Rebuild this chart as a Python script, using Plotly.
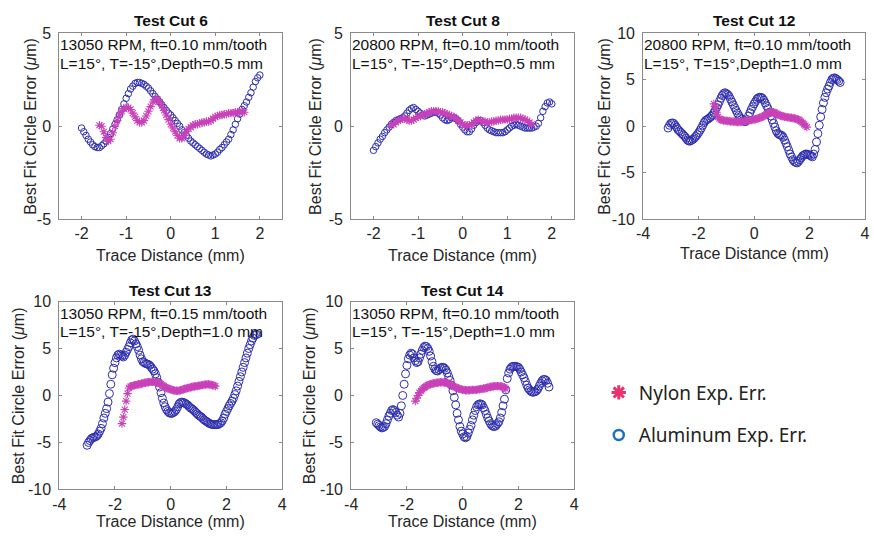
import plotly.graph_objects as go

W, H = 874, 543

# ---------------- data: (trace distance mm, error um) ----------------
c6_al = [(-2.00,-0.1),(-1.95,-0.3),(-1.90,-0.5),(-1.85,-0.7),(-1.80,-0.85),(-1.75,-1.0),(-1.70,-1.1),(-1.65,-1.15),
         (-1.60,-1.15),(-1.55,-1.05),(-1.50,-0.95),(-1.45,-0.8),(-1.40,-0.6),(-1.35,-0.4),(-1.30,-0.15),(-1.25,0.1),
         (-1.20,0.35),(-1.15,0.6),(-1.10,0.9),(-1.05,1.2),(-1.00,1.5),(-0.95,1.75),(-0.90,2.0),(-0.85,2.15),
         (-0.80,2.3),(-0.75,2.35),(-0.70,2.35),(-0.65,2.3),(-0.60,2.25),(-0.55,2.15),(-0.50,2.05),(-0.45,1.9),
         (-0.40,1.75),(-0.35,1.6),(-0.30,1.45),(-0.25,1.3),(-0.20,1.15),(-0.15,1.0),(-0.10,0.85),(-0.05,0.7),
         (0.00,0.6),(0.05,0.45),(0.10,0.3),(0.15,0.15),(0.20,0.0),(0.25,-0.2),(0.30,-0.35),(0.35,-0.5),
         (0.40,-0.65),(0.45,-0.8),(0.50,-0.9),(0.55,-1.0),(0.60,-1.1),(0.65,-1.2),(0.70,-1.3),(0.75,-1.4),
         (0.80,-1.5),(0.85,-1.55),(0.90,-1.6),(0.95,-1.55),(1.00,-1.5),(1.05,-1.4),(1.10,-1.25),(1.15,-1.15),
         (1.20,-1.0),(1.25,-0.85),(1.30,-0.7),(1.35,-0.45),(1.40,-0.2),(1.45,0.1),(1.50,0.4),(1.55,0.65),
         (1.60,0.9),(1.65,1.1),(1.70,1.3),(1.75,1.55),(1.80,1.8),(1.85,2.1),(1.90,2.4),(1.95,2.6),(2.00,2.75)]
c6_ny = [(-1.60,0.05),(-1.55,0.0),(-1.50,-0.3),(-1.45,-0.6),(-1.40,-0.8),(-1.35,-0.7),(-1.30,-0.35),(-1.25,0.0),
         (-1.20,0.3),(-1.15,0.6),(-1.10,0.8),(-1.05,0.95),(-1.00,1.0),(-0.95,1.0),(-0.90,0.9),(-0.85,0.7),
         (-0.80,0.5),(-0.75,0.3),(-0.70,0.2),(-0.65,0.2),(-0.60,0.3),(-0.55,0.55),(-0.50,0.8),(-0.45,1.05),
         (-0.40,1.3),(-0.35,1.45),(-0.30,1.45),(-0.25,1.3),(-0.20,1.1),(-0.15,0.85),(-0.10,0.6),(-0.05,0.35),
         (0.00,0.1),(0.05,-0.1),(0.10,-0.3),(0.15,-0.5),(0.20,-0.65),(0.25,-0.65),(0.30,-0.5),(0.35,-0.3),
         (0.40,-0.15),(0.45,-0.05),(0.50,0.05),(0.55,0.1),(0.60,0.1),(0.65,0.15),(0.70,0.2),(0.75,0.2),
         (0.80,0.25),(0.85,0.25),(0.90,0.3),(0.95,0.4),(1.00,0.5),(1.05,0.55),(1.10,0.6),(1.15,0.6),
         (1.20,0.65),(1.25,0.65),(1.30,0.7),(1.35,0.7),(1.40,0.7),(1.45,0.75),(1.50,0.75),(1.55,0.75),
         (1.60,0.8),(1.65,0.75)]

c8_al = [(-2.00,-1.3),(-1.95,-1.1),(-1.90,-0.9),(-1.85,-0.7),(-1.80,-0.55),(-1.75,-0.35),(-1.70,-0.2),(-1.65,-0.05),
         (-1.60,0.1),(-1.55,0.2),(-1.50,0.3),(-1.45,0.35),(-1.40,0.4),(-1.35,0.45),(-1.30,0.55),(-1.25,0.7),
         (-1.20,0.85),(-1.15,0.95),(-1.10,1.0),(-1.05,0.9),(-1.00,0.8),(-0.95,0.7),(-0.90,0.6),(-0.85,0.55),
         (-0.80,0.6),(-0.75,0.65),(-0.70,0.7),(-0.65,0.75),(-0.60,0.75),(-0.55,0.7),(-0.50,0.6),(-0.45,0.45),
         (-0.40,0.35),(-0.35,0.3),(-0.30,0.35),(-0.25,0.45),(-0.20,0.45),(-0.15,0.4),(-0.10,0.3),(-0.05,0.1),
         (0.00,-0.05),(0.05,-0.2),(0.10,-0.3),(0.15,-0.3),(0.20,-0.15),(0.25,0.05),(0.30,0.2),(0.35,0.3),
         (0.40,0.3),(0.45,0.2),(0.50,0.05),(0.55,-0.1),(0.60,-0.2),(0.65,-0.25),(0.70,-0.3),(0.75,-0.35),
         (0.80,-0.35),(0.85,-0.35),(0.90,-0.35),(0.95,-0.3),(1.00,-0.2),(1.05,-0.1),(1.10,0.0),(1.15,0.05),
         (1.20,0.1),(1.25,0.05),(1.30,0.0),(1.35,-0.05),(1.40,-0.1),(1.45,-0.1),(1.50,-0.1),(1.55,-0.1),
         (1.60,-0.05),(1.65,0.0),(1.70,0.15),(1.75,0.45),(1.80,0.8),(1.85,1.05),(1.90,1.25),(1.95,1.3),(2.00,1.2)]
c8_ny = [(-1.60,0.05),(-1.55,0.1),(-1.50,0.2),(-1.45,0.3),(-1.40,0.35),(-1.35,0.4),(-1.30,0.4),(-1.25,0.35),
         (-1.20,0.3),(-1.15,0.3),(-1.10,0.35),(-1.05,0.45),(-1.00,0.5),(-0.95,0.55),(-0.90,0.6),(-0.85,0.65),
         (-0.80,0.7),(-0.75,0.75),(-0.70,0.8),(-0.65,0.8),(-0.60,0.8),(-0.55,0.8),(-0.50,0.75),(-0.45,0.75),
         (-0.40,0.7),(-0.35,0.65),(-0.30,0.6),(-0.25,0.55),(-0.20,0.5),(-0.15,0.4),(-0.10,0.3),(-0.05,0.2),
         (0.00,0.1),(0.05,0.05),(0.10,0.05),(0.15,0.05),(0.20,0.1),(0.25,0.2),(0.30,0.3),(0.35,0.35),
         (0.40,0.3),(0.45,0.25),(0.50,0.25),(0.55,0.2),(0.60,0.2),(0.65,0.25),(0.70,0.25),(0.75,0.3),
         (0.80,0.3),(0.85,0.35),(0.90,0.35),(0.95,0.35),(1.00,0.35),(1.05,0.4),(1.10,0.4),(1.15,0.45),
         (1.20,0.45),(1.25,0.45),(1.30,0.45),(1.35,0.4),(1.40,0.35),(1.45,0.3),(1.50,0.2),(1.55,0.1)]

c12_al = [(-3.10,-0.2),(-3.05,0.1),(-3.00,0.3),(-2.95,0.35),(-2.90,0.3),(-2.85,0.1),(-2.80,-0.1),(-2.75,-0.35),
          (-2.70,-0.5),(-2.65,-0.65),(-2.60,-0.8),(-2.55,-0.95),(-2.50,-1.1),(-2.45,-1.3),(-2.40,-1.5),(-2.35,-1.6),
          (-2.30,-1.6),(-2.25,-1.5),(-2.20,-1.4),(-2.15,-1.25),(-2.10,-1.1),(-2.05,-0.9),(-2.00,-0.7),(-1.95,-0.45),
          (-1.90,-0.2),(-1.85,0.1),(-1.80,0.4),(-1.75,0.6),(-1.70,0.7),(-1.65,0.8),(-1.60,0.9),(-1.55,1.05),
          (-1.50,1.2),(-1.45,1.45),(-1.40,1.7),(-1.35,2.0),(-1.30,2.3),(-1.25,2.65),(-1.20,3.0),(-1.15,3.3),
          (-1.10,3.5),(-1.05,3.6),(-1.00,3.5),(-0.95,3.4),(-0.90,3.2),(-0.85,2.9),(-0.80,2.6),(-0.75,2.3),
          (-0.70,2.0),(-0.65,1.7),(-0.60,1.4),(-0.55,1.15),(-0.50,0.9),(-0.45,0.75),(-0.40,0.6),(-0.35,0.5),
          (-0.30,0.5),(-0.25,0.7),(-0.20,1.1),(-0.15,1.45),(-0.10,1.8),(-0.05,2.1),(0.00,2.4),(0.05,2.65),
          (0.10,2.9),(0.15,3.05),(0.20,3.1),(0.25,3.1),(0.30,3.0),(0.35,2.8),(0.40,2.5),(0.45,2.2),
          (0.50,1.9),(0.55,1.5),(0.60,1.1),(0.65,0.7),(0.70,0.3),(0.75,-0.1),(0.80,-0.5),(0.85,-0.75),
          (0.90,-0.9),(0.95,-0.95),(1.00,-1.0),(1.05,-1.2),(1.10,-1.5),(1.15,-1.85),(1.20,-2.2),(1.25,-2.6),
          (1.30,-3.0),(1.35,-3.3),(1.40,-3.6),(1.45,-3.8),(1.50,-3.9),(1.55,-3.95),(1.60,-3.8),(1.65,-3.6),
          (1.70,-3.4),(1.75,-3.2),(1.80,-3.1),(1.85,-3.0),(1.90,-3.0),(1.95,-3.05),(2.00,-3.1),(2.05,-3.2),
          (2.10,-3.3),(2.15,-3.0),(2.20,-2.5),(2.25,-1.7),(2.30,-0.8),(2.35,0.1),(2.40,1.0),(2.45,1.8),
          (2.50,2.5),(2.55,3.1),(2.60,3.6),(2.65,4.0),(2.70,4.3),(2.75,4.7),(2.80,5.0),(2.85,5.15),
          (2.90,5.2),(2.95,5.1),(3.00,5.0),(3.05,4.85),(3.10,4.7)]
c12_ny = [(-1.45,2.4),(-1.40,2.1),(-1.35,1.5),(-1.30,1.0),(-1.25,0.8),(-1.20,0.7),(-1.15,0.65),(-1.10,0.6),
          (-1.05,0.6),(-1.00,0.6),(-0.95,0.55),(-0.90,0.55),(-0.85,0.5),(-0.80,0.5),(-0.75,0.5),(-0.70,0.5),
          (-0.65,0.45),(-0.60,0.45),(-0.55,0.45),(-0.50,0.45),(-0.45,0.5),(-0.40,0.5),(-0.35,0.55),(-0.30,0.55),
          (-0.25,0.6),(-0.20,0.6),(-0.15,0.65),(-0.10,0.65),(-0.05,0.7),(0.00,0.7),(0.05,0.75),(0.10,0.8),
          (0.15,0.85),(0.20,0.9),(0.25,0.95),(0.30,1.0),(0.35,1.1),(0.40,1.2),(0.45,1.3),(0.50,1.4),
          (0.55,1.45),(0.60,1.5),(0.65,1.5),(0.70,1.5),(0.75,1.45),(0.80,1.35),(0.85,1.25),(0.90,1.2),
          (0.95,1.15),(1.00,1.1),(1.05,1.05),(1.10,1.0),(1.15,1.0),(1.20,0.95),(1.25,0.95),(1.30,0.9),
          (1.35,0.9),(1.40,0.85),(1.45,0.85),(1.50,0.8),(1.55,0.75),(1.60,0.7),(1.65,0.6),(1.70,0.5),
          (1.75,0.35),(1.80,0.2),(1.85,0.05),(1.90,-0.1)]

c13_al = [(-3.00,-5.3),(-2.95,-5.0),(-2.90,-4.8),(-2.85,-4.6),(-2.80,-4.5),(-2.75,-4.45),(-2.70,-4.4),(-2.65,-4.3),
          (-2.60,-4.1),(-2.55,-3.8),(-2.50,-3.5),(-2.45,-3.0),(-2.40,-2.4),(-2.35,-1.9),(-2.30,-1.4),(-2.25,-0.7),
          (-2.20,0.2),(-2.15,1.2),(-2.10,2.2),(-2.05,2.9),(-2.00,3.5),(-1.95,4.0),(-1.90,4.3),(-1.85,4.4),
          (-1.80,4.3),(-1.75,4.2),(-1.70,4.1),(-1.65,4.3),(-1.60,4.6),(-1.55,4.9),(-1.50,5.2),(-1.45,5.6),
          (-1.40,5.9),(-1.35,6.0),(-1.30,5.8),(-1.25,5.5),(-1.20,5.2),(-1.15,4.8),(-1.10,4.3),(-1.05,3.9),
          (-1.00,3.6),(-0.95,3.5),(-0.90,3.4),(-0.85,3.35),(-0.80,3.3),(-0.75,3.2),(-0.70,3.0),(-0.65,2.8),
          (-0.60,2.6),(-0.55,2.3),(-0.50,1.9),(-0.45,1.4),(-0.40,0.9),(-0.35,0.3),(-0.30,-0.3),(-0.25,-0.8),
          (-0.20,-1.2),(-0.15,-1.5),(-0.10,-1.7),(-0.05,-1.85),(0.00,-1.9),(0.05,-1.9),(0.10,-1.8),(0.15,-1.7),
          (0.20,-1.5),(0.25,-1.2),(0.30,-0.9),(0.35,-0.75),(0.40,-0.7),(0.45,-0.75),(0.50,-0.8),(0.55,-0.9),
          (0.60,-1.0),(0.65,-1.15),(0.70,-1.3),(0.75,-1.4),(0.80,-1.5),(0.85,-1.65),(0.90,-1.8),(0.95,-1.95),
          (1.00,-2.1),(1.05,-2.2),(1.10,-2.3),(1.15,-2.45),(1.20,-2.6),(1.25,-2.7),(1.30,-2.8),(1.35,-2.9),
          (1.40,-3.0),(1.45,-3.05),(1.50,-3.1),(1.55,-3.1),(1.60,-3.1),(1.65,-3.1),(1.70,-3.1),(1.75,-3.0),
          (1.80,-2.9),(1.85,-2.7),(1.90,-2.4),(1.95,-2.0),(2.00,-1.7),(2.05,-1.4),(2.10,-1.1),(2.15,-0.85),
          (2.20,-0.6),(2.25,-0.3),(2.30,0.1),(2.35,0.5),(2.40,1.0),(2.45,1.5),(2.50,2.0),(2.55,2.5),
          (2.60,3.0),(2.65,3.5),(2.70,4.0),(2.75,4.5),(2.80,5.0),(2.85,5.4),(2.90,5.8),(2.95,6.1),
          (3.00,6.4),(3.05,6.5),(3.10,6.5)]
c13_ny = [(-1.75,-3.0),(-1.70,-2.3),(-1.65,-1.5),(-1.60,-0.6),(-1.55,0.2),(-1.50,0.8),(-1.45,0.95),(-1.40,1.0),
          (-1.35,1.05),(-1.30,1.1),(-1.25,1.1),(-1.20,1.15),(-1.15,1.2),(-1.10,1.2),(-1.05,1.25),(-1.00,1.3),
          (-0.95,1.35),(-0.90,1.35),(-0.85,1.4),(-0.80,1.4),(-0.75,1.45),(-0.70,1.45),(-0.65,1.45),(-0.60,1.45),
          (-0.55,1.45),(-0.50,1.4),(-0.45,1.35),(-0.40,1.3),(-0.35,1.2),(-0.30,1.1),(-0.25,1.0),(-0.20,0.9),
          (-0.15,0.8),(-0.10,0.75),(-0.05,0.7),(0.00,0.65),(0.05,0.6),(0.10,0.55),(0.15,0.5),(0.20,0.5),
          (0.25,0.5),(0.30,0.5),(0.35,0.55),(0.40,0.6),(0.45,0.65),(0.50,0.7),(0.55,0.75),(0.60,0.8),
          (0.65,0.8),(0.70,0.85),(0.75,0.9),(0.80,0.95),(0.85,0.95),(0.90,1.0),(0.95,1.0),(1.00,1.05),
          (1.05,1.05),(1.10,1.1),(1.15,1.1),(1.20,1.15),(1.25,1.15),(1.30,1.2),(1.35,1.2),(1.40,1.15),
          (1.45,1.15),(1.50,1.1),(1.55,1.05),(1.60,1.0)]

c14_al = [(-3.10,-2.9),(-3.05,-3.05),(-3.00,-3.2),(-2.95,-3.35),(-2.90,-3.45),(-2.85,-3.4),(-2.80,-3.3),(-2.75,-3.0),
          (-2.70,-2.6),(-2.65,-2.2),(-2.60,-1.9),(-2.55,-1.6),(-2.50,-1.5),(-2.45,-1.6),(-2.40,-1.8),(-2.35,-2.1),
          (-2.30,-2.3),(-2.25,-1.9),(-2.20,-1.1),(-2.15,0.0),(-2.10,1.2),(-2.05,2.3),(-2.00,3.2),(-1.95,3.9),
          (-1.90,4.3),(-1.85,4.5),(-1.80,4.4),(-1.75,4.0),(-1.70,3.7),(-1.65,3.5),(-1.60,3.6),(-1.55,4.0),
          (-1.50,4.4),(-1.45,4.8),(-1.40,5.1),(-1.35,5.25),(-1.30,5.2),(-1.25,5.0),(-1.20,4.7),(-1.15,4.2),
          (-1.10,3.6),(-1.05,3.1),(-1.00,2.8),(-0.95,2.65),(-0.90,2.6),(-0.85,2.75),(-0.80,2.9),(-0.75,3.0),
          (-0.70,3.0),(-0.65,2.9),(-0.60,2.7),(-0.55,2.4),(-0.50,2.0),(-0.45,1.6),(-0.40,1.1),(-0.35,0.5),
          (-0.30,-0.2),(-0.25,-1.0),(-0.20,-1.9),(-0.15,-2.6),(-0.10,-3.3),(-0.05,-3.8),(0.00,-4.1),(0.05,-4.4),
          (0.10,-4.5),(0.15,-4.4),(0.20,-4.0),(0.25,-3.6),(0.30,-3.2),(0.35,-2.6),(0.40,-2.1),(0.45,-1.6),
          (0.50,-1.2),(0.55,-1.0),(0.60,-0.9),(0.65,-0.9),(0.70,-1.0),(0.75,-1.3),(0.80,-1.6),(0.85,-2.0),
          (0.90,-2.4),(0.95,-2.7),(1.00,-3.0),(1.05,-3.2),(1.10,-3.3),(1.15,-3.3),(1.20,-3.2),(1.25,-3.0),
          (1.30,-2.8),(1.35,-2.4),(1.40,-1.8),(1.45,-1.1),(1.50,-0.4),(1.55,0.6),(1.60,1.8),(1.65,2.4),
          (1.70,2.8),(1.75,3.0),(1.80,3.1),(1.85,3.1),(1.90,3.1),(1.95,3.05),(2.00,3.0),(2.05,2.8),
          (2.10,2.5),(2.15,2.2),(2.20,1.9),(2.25,1.5),(2.30,1.1),(2.35,0.8),(2.40,0.6),(2.45,0.45),
          (2.50,0.35),(2.55,0.35),(2.60,0.4),(2.65,0.5),(2.70,0.7),(2.75,1.0),(2.80,1.3),(2.85,1.55),
          (2.90,1.7),(2.95,1.7),(3.00,1.6),(3.05,1.3),(3.10,0.9)]
c14_ny = [(-1.70,-0.6),(-1.65,-0.3),(-1.60,0.0),(-1.55,0.3),(-1.50,0.5),(-1.45,0.65),(-1.40,0.8),(-1.35,0.9),
          (-1.30,1.0),(-1.25,1.1),(-1.20,1.15),(-1.15,1.2),(-1.10,1.25),(-1.05,1.3),(-1.00,1.3),(-0.95,1.35),
          (-0.90,1.35),(-0.85,1.4),(-0.80,1.4),(-0.75,1.4),(-0.70,1.4),(-0.65,1.4),(-0.60,1.35),(-0.55,1.3),
          (-0.50,1.25),(-0.45,1.2),(-0.40,1.1),(-0.35,1.0),(-0.30,0.95),(-0.25,0.85),(-0.20,0.8),(-0.15,0.75),
          (-0.10,0.7),(-0.05,0.65),(0.00,0.6),(0.05,0.6),(0.10,0.55),(0.15,0.55),(0.20,0.55),(0.25,0.55),
          (0.30,0.6),(0.35,0.6),(0.40,0.6),(0.45,0.6),(0.50,0.6),(0.55,0.65),(0.60,0.65),(0.65,0.7),
          (0.70,0.7),(0.75,0.75),(0.80,0.75),(0.85,0.8),(0.90,0.85),(0.95,0.9),(1.00,0.9),(1.05,0.95),
          (1.10,0.95),(1.15,1.0),(1.20,1.0),(1.25,1.0),(1.30,1.0),(1.35,1.0),(1.40,0.95),(1.45,0.9),
          (1.50,0.85),(1.55,0.7)]

titles = ["Test Cut 6", "Test Cut 8", "Test Cut 12", "Test Cut 13", "Test Cut 14"]
info_line1 = ["13050 RPM, ft=0.10 mm/tooth", "20800 RPM, ft=0.10 mm/tooth", "20800 RPM, ft=0.10 mm/tooth",
              "13050 RPM, ft=0.15 mm/tooth", "13050 RPM, ft=0.10 mm/tooth"]
info_line2 = ["L=15°, T=-15°,Depth=0.5 mm", "L=15°, T=-15°,Depth=0.5 mm", "L=15°, T=15°,Depth=1.0 mm",
              "L=15°, T=-15°,Depth=1.0 mm", "L=15°, T=-15°,Depth=1.0 mm"]
x_label = "Trace Distance (mm)"
y_label = "Best Fit Circle Error (<i>μ</i>m)"
legend_labels = ["Nylon Exp. Err.", "Aluminum Exp. Err."]

xranges = [[-2.5, 2.5], [-2.5, 2.5], [-4, 4], [-4, 4], [-4, 4]]
xticks = [[-2, -1, 0, 1, 2], [-2, -1, 0, 1, 2], [-4, -2, 0, 2, 4], [-4, -2, 0, 2, 4], [-4, -2, 0, 2, 4]]
yranges = [[-5, 5], [-5, 5], [-10, 10], [-10, 10], [-10, 10]]
yticks = [[-5, 0, 5], [-5, 0, 5], [-10, -5, 0, 5, 10], [-10, -5, 0, 5, 10], [-10, -5, 0, 5, 10]]

# ---------------- layout geometry (pixels) ----------------
boxes = [  # left, right, top, bottom
    (53, 279, 26, 218),
    (349, 575, 26, 218),
    (645, 870, 26, 218),
    (53, 279, 303, 497),
    (349, 575, 303, 497),
]
title_y = [13, 13, 13, 292, 292]
xtitle_y = [256, 256, 253, 530, 530]
ytitle_x = [23, 312, 606, 12, 307]

al_data = [c6_al, c8_al, c12_al, c13_al, c14_al]
ny_data = [c6_ny, c8_ny, c12_ny, c13_ny, c14_ny]

AL_COLOR = "#2f2fae"
NY_COLOR = "#c940b8"
FONT = "Liberation Sans"
TXT = "#262626"
AXC = "#8a8a8a"


def px(xp):
    return xp / W


def py(yp):
    return 1 - yp / H


def hyphen_labels(vals):
    # the reference uses a plain hyphen for negative tick labels
    return [("-" + str(abs(v))) if v < 0 else str(v) for v in vals]


fig = go.Figure()
annotations = []
layout_axes = {}

for i in range(5):
    l, r, t, b = boxes[i]
    n = "" if i == 0 else str(i + 1)
    xa, ya = "x" + n, "y" + n
    small = i < 2
    ax_, ay_ = zip(*al_data[i])
    nx_, ny_ = zip(*ny_data[i])
    fig.add_trace(go.Scatter(
        x=list(ax_), y=list(ay_), xaxis=xa, yaxis=ya, mode="markers", showlegend=False,
        marker=dict(symbol="circle-open", size=6.5 if small else 8, color=AL_COLOR,
                    line=dict(width=1, color=AL_COLOR)),
        hoverinfo="skip"))
    fig.add_trace(go.Scatter(
        x=list(nx_), y=list(ny_), xaxis=xa, yaxis=ya, mode="markers", showlegend=False,
        marker=dict(symbol="asterisk-open", size=7, color=NY_COLOR, line=dict(width=1.1, color=NY_COLOR)),
        hoverinfo="skip"))
    common = dict(showgrid=False, zeroline=False, showline=True, linecolor=AXC, linewidth=1,
                  mirror="ticks", ticks="inside", ticklen=3, tickcolor=AXC,
                  tickfont=dict(family=FONT, size=16, color=TXT))
    layout_axes["xaxis" + n] = dict(common, domain=[px(l), px(r)], range=xranges[i], tickvals=xticks[i],
                                    ticktext=hyphen_labels(xticks[i]), anchor=ya)
    layout_axes["yaxis" + n] = dict(common, domain=[py(b), py(t)], range=yranges[i], tickvals=yticks[i],
                                    ticktext=hyphen_labels(yticks[i]), anchor=xa, ticklabelstandoff=4)
    cx = (l + r) / 2
    cy = (t + b) / 2
    annotations.append(dict(text="<b>" + titles[i] + "</b>", x=px(cx), y=py(title_y[i]), xref="paper",
                            yref="paper", showarrow=False, xanchor="center", yanchor="middle",
                            font=dict(family=FONT, size=15.5, color="#111")))
    annotations.append(dict(text=x_label, x=px(cx), y=py(xtitle_y[i]), xref="paper", yref="paper",
                            showarrow=False, xanchor="center", yanchor="middle",
                            font=dict(family=FONT, size=16, color=TXT)))
    annotations.append(dict(text=y_label, x=px(ytitle_x[i]), y=py(cy), xref="paper", yref="paper",
                            showarrow=False, xanchor="center", yanchor="middle", textangle=-90,
                            font=dict(family=FONT, size=16, color=TXT)))
    annotations.append(dict(text=info_line1[i], x=px(l), y=py(t + 12), xref="paper", yref="paper",
                            showarrow=False, xanchor="left", yanchor="middle", borderpad=0,
                            font=dict(family=FONT, size=15.5, color="#111")))
    annotations.append(dict(text=info_line2[i], x=px(l), y=py(t + 31), xref="paper", yref="paper",
                            showarrow=False, xanchor="left", yanchor="middle", borderpad=0,
                            font=dict(family=FONT, size=15.5, color="#111")))

# legend entries (two separate legends to reproduce the wide spacing)
fig.add_trace(go.Scatter(x=[None], y=[None], mode="markers", name=legend_labels[0], legend="legend",
                         marker=dict(symbol="asterisk-open", size=12, color="#e8336e",
                                     line=dict(width=3, color="#e8336e"))))
fig.add_trace(go.Scatter(x=[None], y=[None], mode="markers", name=legend_labels[1], legend="legend2",
                         marker=dict(symbol="circle-open", size=10, color="#1f6fc0",
                                     line=dict(width=2.5, color="#1f6fc0"))))

leg_common = dict(xanchor="left", yanchor="middle", bgcolor="rgba(0,0,0,0)", borderwidth=0,
                  font=dict(family="Noto Sans", size=19, color="#222"), itemwidth=30)
fig.update_layout(
    width=W, height=H, margin=dict(l=0, r=0, t=0, b=0),
    paper_bgcolor="white", plot_bgcolor="white",
    annotations=annotations,
    legend=dict(leg_common, x=px(600), y=py(397)),
    legend2=dict(leg_common, x=px(600), y=py(441)),
    **layout_axes,
)

fig.write_html("out.html")
